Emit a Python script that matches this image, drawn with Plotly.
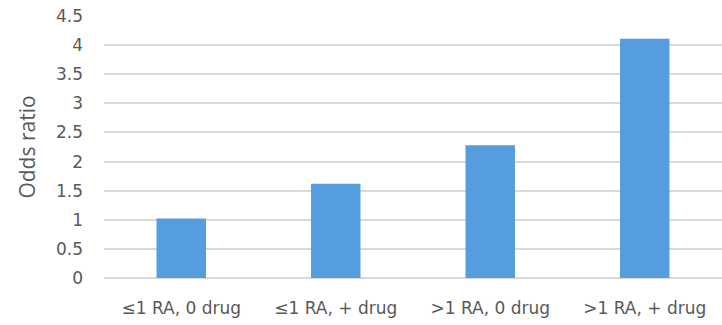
import plotly.graph_objects as go

categories = ["≤1 RA, 0 drug", "≤1 RA, + drug", ">1 RA, 0 drug", ">1 RA, + drug"]
odds_ratio = [1.02, 1.62, 2.28, 4.11]
y_ticks = [0, 0.5, 1, 1.5, 2, 2.5, 3, 3.5, 4, 4.5]
y_tick_labels = ["0", "0.5", "1", "1.5", "2", "2.5", "3", "3.5", "4", "4.5"]

fig = go.Figure(go.Bar(
    x=categories, y=odds_ratio,
    marker=dict(color="#549DDE", line=dict(width=0)),
    width=0.32,
))

font_family = "DejaVu Sans, sans-serif"
fig.update_layout(
    width=722, height=325,
    margin=dict(l=104, r=0, t=16, b=47, autoexpand=False),
    paper_bgcolor="white", plot_bgcolor="white",
    showlegend=False,
    font=dict(family=font_family, size=17, color="#595959"),
    xaxis=dict(
        showgrid=False, showline=False, zeroline=False,
        ticks="", ticklabelstandoff=18, automargin=False,
        tickfont=dict(size=17, color="#595959"),
    ),
    yaxis=dict(
        range=[0, 4.5], tickvals=y_ticks, ticktext=y_tick_labels,
        showgrid=True, gridcolor="#D9D9D9", gridwidth=1.5,
        zeroline=True, zerolinecolor="#D9D9D9", zerolinewidth=1.5,
        showline=False, ticks="", ticklabelstandoff=20, automargin=False,
        tickfont=dict(size=17, color="#595959"),
        title=dict(text="Odds ratio", font=dict(family="Open Sans, sans-serif", size=21, color="#595959"), standoff=14),
    ),
)

fig.write_html("out.html", config={"displayModeBar": False},
               post_script="document.body.style.margin='0';")
